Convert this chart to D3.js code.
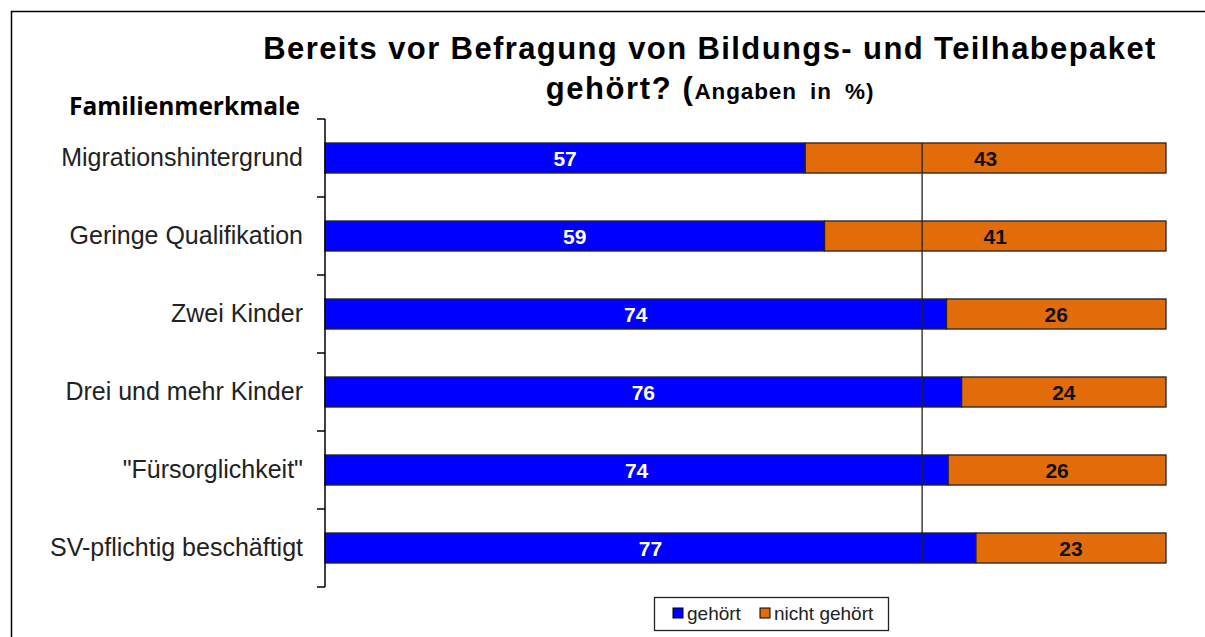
<!DOCTYPE html>
<html lang="de">
<head>
<meta charset="utf-8">
<title>Bildungs- und Teilhabepaket</title>
<script src="https://d3js.org/d3.v7.min.js"></script>
<style>
  body { margin: 0; padding: 0; background: #fff; }
  svg { display: block; }
</style>
</head>
<body>
<div id="root"></div>
<script>
  var categories = ["Migrationshintergrund", "Geringe Qualifikation", "Zwei Kinder",
                    "Drei und mehr Kinder", "\"Fürsorglichkeit\"", "SV-pflichtig beschäftigt"];
  var gehoert = [57.1, 59.4, 73.9, 75.7, 74.1, 77.4];
  var nichtGehoert = [42.9, 40.6, 26.1, 24.3, 25.9, 22.6];
  var referenceValue = 71;
  var seriesNames = ["gehört", "nicht gehört"];
  var seriesColors = ["#0000ff", "#e36c0a"];

  var W = 1205, H = 637;
  var svg = d3.select("#root").append("svg")
      .attr("width", W)
      .attr("height", H);

  // outer frame (right and bottom edges run off the picture)
  svg.append("path")
      .attr("d", "M11.5," + H + "V11.5H" + W)
      .attr("fill", "none")
      .attr("stroke", "#000")
      .attr("stroke-width", 1.5);

  // title
  var title = svg.append("text")
      .attr("text-anchor", "middle")
      .style("font-family", "Arial, 'Liberation Sans', sans-serif")
      .style("font-weight", "bold")
      .attr("fill", "#000");
  title.append("tspan").attr("x", 710).attr("y", 59)
      .style("font-size", "31px")
      .style("letter-spacing", "1.4px")
      .text("Bereits vor Befragung von Bildungs- und Teilhabepaket");
  var t2 = title.append("tspan").attr("x", 710).attr("y", 99);
  t2.append("tspan").style("font-size", "31px").style("letter-spacing", "1.6px").text("gehört? (");
  t2.append("tspan").style("font-size", "22.5px").style("letter-spacing", "0.9px")
      .style("word-spacing", "6px").text("Angaben in %)");

  svg.append("text")
      .attr("x", 300).attr("y", 115)
      .attr("text-anchor", "end")
      .style("font-family", "'Open Sans', sans-serif")
      .style("font-weight", "bold")
      .style("font-size", "24.5px")
      .text("Familienmerkmale");

  var x = d3.scaleLinear().domain([0, 100]).range([325, 1166]);
  var y = d3.scaleBand().domain(categories).range([119, 587])
      .paddingInner(0.615).paddingOuter(0.3075);

  var rows = categories.map(function(c, i) {
    return { cat: c, parts: [
      { key: 0, x0: 0, x1: gehoert[i], v: gehoert[i] },
      { key: 1, x0: gehoert[i], x1: gehoert[i] + nichtGehoert[i], v: nichtGehoert[i] }
    ]};
  });

  var g = svg.append("g");
  var row = g.selectAll("g.row").data(rows).enter().append("g").attr("class", "row");

  row.selectAll("rect").data(function(d) { return d.parts.map(function(p) { p.cat = d.cat; return p; }); })
    .enter().append("rect")
      .attr("x", function(d) { return x(d.x0); })
      .attr("y", function(d) { return y(d.cat); })
      .attr("width", function(d) { return x(d.x1) - x(d.x0); })
      .attr("height", y.bandwidth())
      .attr("fill", function(d) { return seriesColors[d.key]; })
      .attr("stroke", "#222")
      .attr("stroke-width", 1.3);

  // reference line on top of bars
  svg.append("line")
      .attr("x1", x(referenceValue)).attr("x2", x(referenceValue))
      .attr("y1", y(categories[0]))
      .attr("y2", y(categories[categories.length - 1]) + y.bandwidth())
      .attr("stroke", "#222")
      .attr("stroke-width", 1.3);

  row.selectAll("text").data(function(d) { return d.parts; })
    .enter().append("text")
      .attr("x", function(d) { return (x(d.x0) + x(d.x1)) / 2; })
      .attr("y", function(d) { return y(d.cat) + y.bandwidth() / 2; })
      .attr("dy", "0.36em")
      .attr("text-anchor", "middle")
      .style("font-family", "Arial, 'Liberation Sans', sans-serif")
      .style("font-weight", "bold")
      .style("font-size", "21px")
      .attr("fill", function(d) { return d.key === 0 ? "#fff" : "#111"; })
      .text(function(d) { return Math.round(d.v); });

  // category axis with ticks between bands
  var ax = svg.append("g");
  ax.append("line")
      .attr("x1", 325).attr("x2", 325)
      .attr("y1", y.range()[0]).attr("y2", y.range()[1])
      .attr("stroke", "#000").attr("stroke-width", 1.5);
  var step = y.step();
  var tickYs = d3.range(categories.length + 1).map(function(i) { return y.range()[0] + i * step; });
  ax.selectAll("line.tick").data(tickYs).enter().append("line")
      .attr("class", "tick")
      .attr("x1", 317).attr("x2", 325)
      .attr("y1", function(d) { return d; }).attr("y2", function(d) { return d; })
      .attr("stroke", "#000").attr("stroke-width", 1.5);
  ax.selectAll("text").data(categories).enter().append("text")
      .attr("x", 303)
      .attr("y", function(d) { return y(d) + y.bandwidth() / 2 - 1; })
      .attr("dy", "0.36em")
      .attr("text-anchor", "end")
      .style("font-family", "Arial, 'Liberation Sans', sans-serif")
      .style("font-size", "25px")
      .attr("fill", "#222")
      .text(function(d) { return d; });

  // legend
  var lg = svg.append("g");
  lg.append("rect")
      .attr("x", 654.5).attr("y", 597.5).attr("width", 234).attr("height", 33)
      .attr("fill", "#fff").attr("stroke", "#222").attr("stroke-width", 1.3);
  var items = lg.selectAll("g").data(seriesNames).enter().append("g")
      .attr("transform", function(d, i) { return "translate(" + (673 + i * 87) + ",0)"; });
  items.append("rect")
      .attr("x", 0).attr("y", 608).attr("width", 10).attr("height", 10)
      .attr("fill", function(d, i) { return seriesColors[i]; })
      .attr("stroke", "#000").attr("stroke-width", 1);
  items.append("text")
      .attr("x", 14).attr("y", 620)
      .style("font-family", "Arial, 'Liberation Sans', sans-serif")
      .style("font-size", "19px")
      .attr("fill", "#222")
      .text(function(d) { return d; });
</script>
</body>
</html>
